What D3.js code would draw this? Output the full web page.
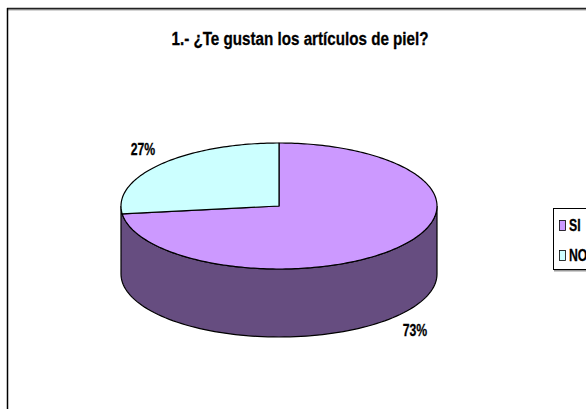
<!DOCTYPE html>
<html>
<head>
<meta charset="utf-8">
<script src="https://cdn.jsdelivr.net/npm/d3@7"></script>
<style>
  html, body { margin: 0; padding: 0; background: #fff; }
  svg { display: block; }
  text { font-family: "Liberation Sans", Arial, sans-serif; font-weight: bold; fill: #000; stroke: #000; stroke-width: 0.3px; }
</style>
</head>
<body>
<div id="chart"></div>
<script>
// chart data
const titleText = "1.- ¿Te gustan los artículos de piel?";
const categories = ["SI", "NO"];
const values = [73, 27];
const labels = ["73%", "27%"];
const topColors = ["#cc99ff", "#ccffff"];
const sideColor = "#664d80";

const width = 586, height = 409;
const cx = 279, cy = 206, rx = 158, ry = 63, depth = 68;

const svg = d3.select("#chart").append("svg")
  .attr("width", width)
  .attr("height", height);

// chart frame: only the top and left edges fall inside the picture
svg.append("rect").attr("x", 7).attr("y", 9).attr("width", width - 7).attr("height", 1.5).attr("fill", "#aaa");
svg.append("line").attr("x1", 7).attr("x2", width).attr("y1", 8.5).attr("y2", 8.5).attr("stroke", "#222").attr("stroke-width", 1.5);
svg.append("line").attr("x1", 7.5).attr("x2", 7.5).attr("y1", 8).attr("y2", height).attr("stroke", "#000").attr("stroke-width", 1.5);

// title, squeezed like the original
function squeezed(sel, x, y, size, sx) {
  return sel.attr("transform", `translate(${x},${y}) scale(${sx},1)`)
    .attr("font-size", size);
}
squeezed(svg.append("text").attr("text-anchor", "middle").text(titleText), 300, 45, 19, 0.8);

// pie slices, clockwise from 12 o'clock
const pie = d3.pie().sort(null).value(d => d);
const slices = pie(values);

// x/y scales flatten the unit circle into the tilted ellipse
const xScale = d3.scaleLinear().domain([-1, 1]).range([cx - rx, cx + rx]);
const yScale = d3.scaleLinear().domain([-1, 1]).range([cy - ry, cy + ry]);
const rim = (a, dy) => [xScale(Math.sin(a)), yScale(-Math.cos(a)) + dy];

// front wall: 90deg to 270deg of the rim, down then back
const front = d3.range(90, 270.5, 2).map(d => d * Math.PI / 180);
const wall = front.map(a => rim(a, 0)).concat(front.slice().reverse().map(a => rim(a, depth)));
svg.append("path")
  .attr("d", d3.line()(wall) + "Z")
  .attr("fill", sideColor)
  .attr("stroke", "#000")
  .attr("stroke-width", 1.2);

// top face
slices.forEach((s, i) => {
  const steps = d3.range(s.startAngle, s.endAngle, 0.02).concat([s.endAngle]);
  const pts = [[xScale(0), yScale(0)]].concat(steps.map(a => rim(a, 0)));
  svg.append("path")
    .attr("d", d3.line()(pts) + "Z")
    .attr("fill", topColors[i])
    .attr("stroke", "#000")
    .attr("stroke-width", 1.2)
    .attr("stroke-linejoin", "round");
});

// data labels
squeezed(svg.append("text").attr("text-anchor", "middle").text(labels[0]), 415, 336, 17, 0.72);
squeezed(svg.append("text").attr("text-anchor", "middle").text(labels[1]), 143, 155, 17, 0.72);

// legend box runs off the right edge, with a grey shadow under it
const legendY = d3.scalePoint().domain(categories).range([231, 261]);
svg.append("rect")
  .attr("x", 554).attr("y", 270)
  .attr("width", 40).attr("height", 1.5)
  .attr("fill", "#999");
svg.append("rect")
  .attr("x", 553.5).attr("y", 208.5)
  .attr("width", 60).attr("height", 61)
  .attr("fill", "#fff").attr("stroke", "#000").attr("stroke-width", 1);
categories.forEach((c, i) => {
  svg.append("rect")
    .attr("x", 559.5).attr("y", legendY(c) - 10.5)
    .attr("width", 6).attr("height", 10)
    .attr("fill", topColors[i]).attr("stroke", "#000").attr("stroke-width", 0.8);
  squeezed(svg.append("text").text(c), 569, legendY(c), 17, 0.72);
});
</script>
</body>
</html>
